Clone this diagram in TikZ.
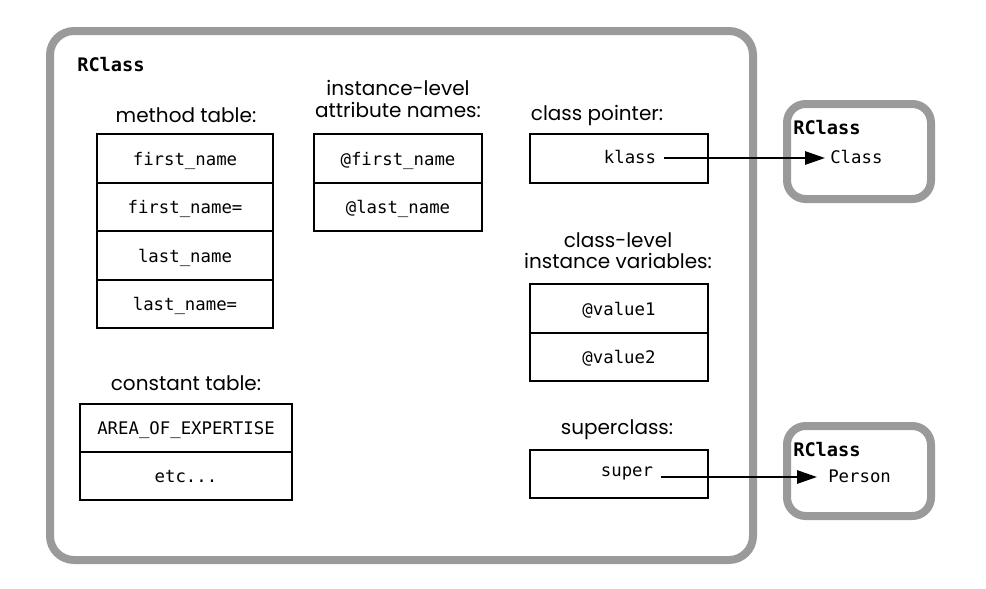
\documentclass[tikz,border=0pt]{standalone}
\usepackage{fontspec}
\setmainfont{Poppins}
\setmonofont{DejaVu Sans Mono}
\usetikzlibrary{arrows.meta}
\definecolor{frame}{HTML}{9A9A9A}
\tikzset{
  outerbox/.style={draw=frame, line width=6pt, rounded corners=18pt},
  monotext/.style={font=\ttfamily\fontsize{13}{15}\selectfont},
  cell/.style={draw=black, line width=1.4pt, minimum height=36.4pt, inner sep=0pt, monotext, text depth=0pt, yshift=0pt},
  lbl/.style={font=\fontsize{15}{18}\selectfont, align=center, inner sep=0pt},
  title/.style={font=\ttfamily\bfseries\fontsize{14}{16}\selectfont, inner sep=0pt, anchor=west},
  ptr/.style={line width=1.4pt, -{Triangle[length=15pt,width=10pt]}}
}
\begin{document}
\begin{tikzpicture}[x=0.75pt,y=-0.75pt]
\useasboundingbox (0,0) rectangle (986,589);
% main frame
\draw[outerbox] (50,31) rectangle (753,560);
\node[title] (t0) at (77,65) {RClass};
% method table
\node[lbl] (mtl) at (186,115) {method table:};
\node[cell, minimum width=132pt] (m1) at (185,158.5) {first\_name};
\node[cell, minimum width=132pt] (m2) at (185,207) {first\_name=};
\node[cell, minimum width=132pt] (m3) at (185,255.5) {last\_name};
\node[cell, minimum width=132pt] (m4) at (185,304) {last\_name=};
% instance-level
\node[lbl] (ial) at (398,99) {instance-level\\[-2pt]attribute names:};
\node[cell, minimum width=126pt] (a1) at (398,158.5) {@first\_name};
\node[cell, minimum width=126pt] (a2) at (398,207) {@last\_name};
% class pointer
\node[lbl] (cpl) at (597,115) {class pointer:};
\node[cell, minimum width=133.5pt] (k) at (619,158.5) {};
\node[monotext, inner sep=0pt] (kt) at (630,157) {klass};
% class-level
\node[lbl] (cll) at (618,251) {class-level\\[-2pt]instance variables:};
\node[cell, minimum width=133.5pt] (v1) at (619,308.5) {@value1};
\node[cell, minimum width=133.5pt] (v2) at (619,357) {@value2};
% superclass
\node[lbl] (scl) at (617,430) {superclass:};
\node[cell, minimum width=133.5pt] (s) at (619,474) {};
\node[monotext, inner sep=0pt] (st) at (627,473) {super};
% constant table
\node[lbl] (ctl) at (186,383) {constant table:};
\node[cell, minimum width=159pt] (c1) at (186,428) {AREA\_OF\_EXPERTISE};
\node[cell, minimum width=159pt] (c2) at (186,476) {etc...};
% right frames
\draw[outerbox, rounded corners=14pt] (787,104) rectangle (931,199);
\node[title] (t1) at (793,128) {RClass};
\node[monotext, inner sep=0pt, anchor=west] (cls) at (830,157) {Class};
\draw[outerbox, rounded corners=14pt] (787,426) rectangle (931,516);
\node[title] (t2) at (793,450) {RClass};
\node[monotext, inner sep=0pt, anchor=west] (per) at (828,476) {Person};
% pointers
\draw[ptr] (kt.east) ++(8,1) coordinate (ks) -- (ks -| 825,0) coordinate (ke);
\draw[ptr] (st.east) ++(8,4) coordinate (ss) -- (ss -| 817,0) coordinate (se);
\end{tikzpicture}
\end{document}
